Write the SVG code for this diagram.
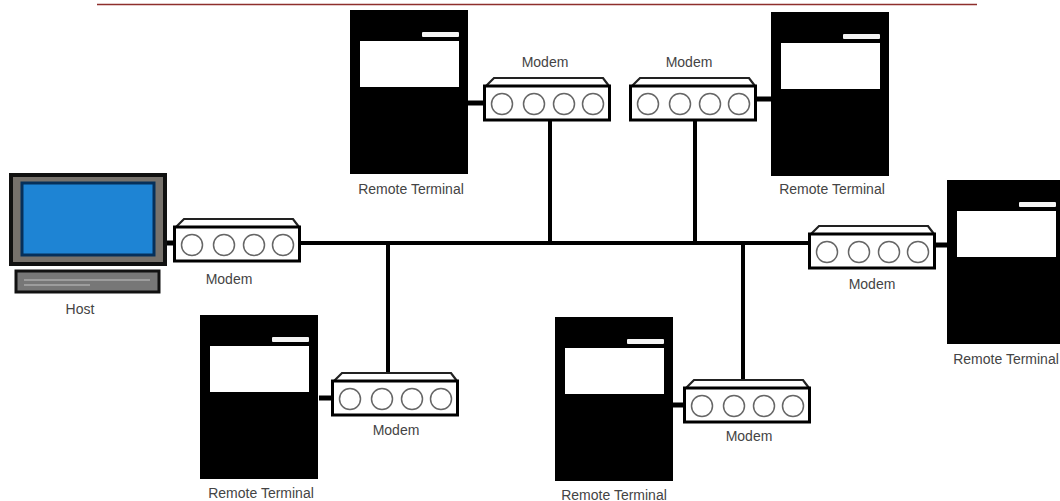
<svg xmlns="http://www.w3.org/2000/svg" width="1060" height="501" viewBox="0 0 1060 501">
<style>
text{font-family:"Liberation Sans",Arial,sans-serif;font-size:14px;fill:#444;text-anchor:middle}
.wire{stroke:#000;stroke-width:4;fill:none}
.stub{stroke-width:5}
.port{fill:none;stroke:#666;stroke-width:1.500}
</style>
<defs>
<g id="terminal-shape"><rect width="118" height="164" fill="#000"/><rect x="10" y="31" width="99" height="46" fill="#fff"/><rect x="72" y="22" width="37" height="5" rx="1" fill="#f4f4f4"/></g>
<g id="modem-shape"><path d="M3 0L11-8H120L126 0" fill="#fff" stroke="#222" stroke-width="2.200"/><rect x="1.500" y="0" width="125" height="34" fill="#fff" stroke="#000" stroke-width="3"/><circle class="port" cx="19" cy="18" r="10.500"/><circle class="port" cx="51" cy="18" r="10.500"/><circle class="port" cx="81" cy="18" r="10.500"/><circle class="port" cx="110" cy="18" r="10.500"/></g>
</defs>
<rect width="1060" height="501" fill="#fff"/>
<line id="top-rule" x1="97" y1="4.500" x2="977" y2="4.500" stroke="#8e2f2c" stroke-width="1.500"/>
<g id="connectors" class="wire">
<path d="M299 243H810"/>
<path d="M550 120V243M695 120V243M388 243V373M743 243V380"/>
<path class="stub" d="M165 243H174M467 103H483M757 99H772M935 245H948M319 398H332M673 405H684"/>
</g>
<g id="host">
<rect x="11" y="175" width="154" height="89" fill="#77726c" stroke="#111" stroke-width="4"/>
<rect x="22" y="183" width="132" height="72" fill="#1e84d4" stroke="#06305a" stroke-width="3"/>
<rect x="16" y="271" width="143" height="21" fill="#777" stroke="#111" stroke-width="3"/>
<path d="M24 280H150M24 285H90" stroke="#aaa" stroke-width="1.500"/>
<text x="80" y="314">Host</text>
</g>
<g id="modem-host"><use href="#modem-shape" x="173" y="227"/><text x="229" y="284">Modem</text></g>
<g id="modem-top-1"><use href="#modem-shape" x="483" y="86"/><text x="545" y="67">Modem</text></g>
<g id="modem-top-2"><use href="#modem-shape" x="629" y="86"/><text x="689" y="67">Modem</text></g>
<g id="modem-right"><use href="#modem-shape" x="808" y="234"/><text x="872" y="289">Modem</text></g>
<g id="modem-bottom-1"><use href="#modem-shape" x="331" y="381"/><text x="396" y="435">Modem</text></g>
<g id="modem-bottom-2"><use href="#modem-shape" x="683" y="388"/><text x="749" y="441">Modem</text></g>
<g id="terminal-top-1"><use href="#terminal-shape" x="350" y="10"/><text x="411" y="194">Remote Terminal</text></g>
<g id="terminal-top-2"><use href="#terminal-shape" x="771" y="12"/><text x="832" y="194">Remote Terminal</text></g>
<g id="terminal-right"><use href="#terminal-shape" x="947" y="180"/><text x="1006" y="364">Remote Terminal</text></g>
<g id="terminal-bottom-1"><use href="#terminal-shape" x="200" y="315"/><text x="261" y="498">Remote Terminal</text></g>
<g id="terminal-bottom-2"><use href="#terminal-shape" x="555" y="317"/><text x="614" y="500">Remote Terminal</text></g>
</svg>
